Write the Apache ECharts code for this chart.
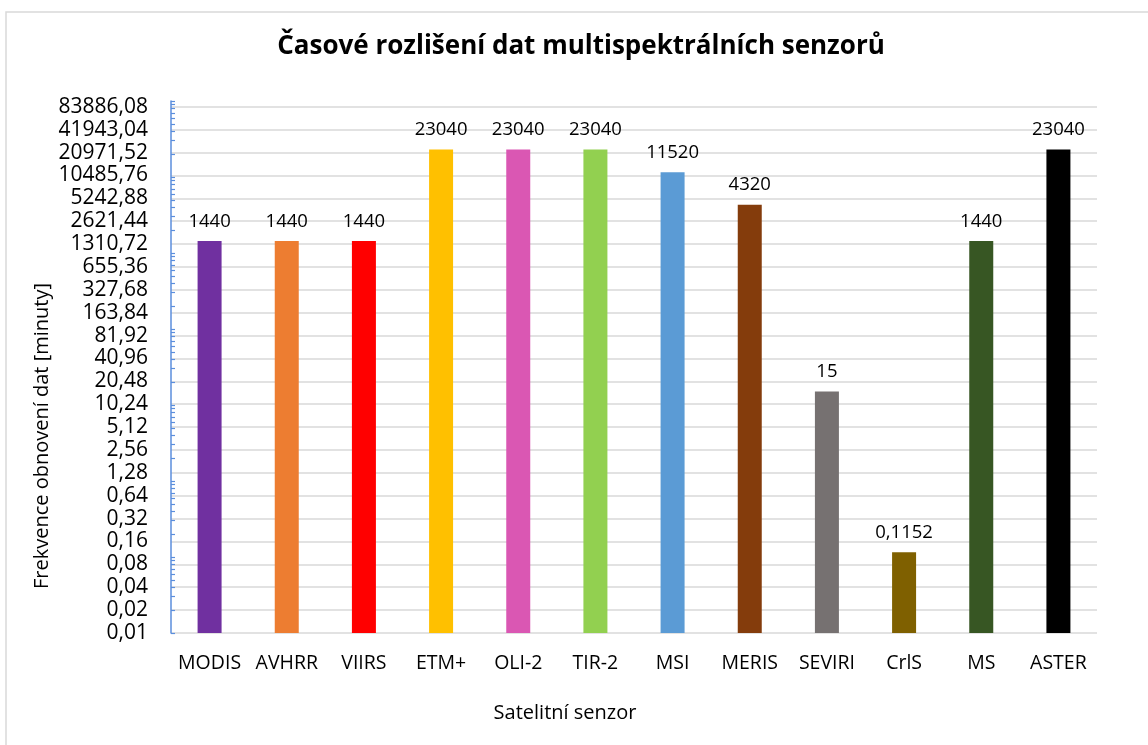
<!DOCTYPE html>
<html>
<head>
<meta charset="utf-8">
<title>Časové rozlišení dat multispektrálních senzorů</title>
<script src="https://cdn.jsdelivr.net/npm/echarts@6/dist/echarts.min.js"></script>
<style>
  html, body { margin: 0; padding: 0; background: #fff; }
  #chart { width: 1148px; height: 745px; }
</style>
</head>
<body>
<div id="chart"></div>
<script>
// data
var sensors = ['MODIS', 'AVHRR', 'VIIRS', 'ETM+', 'OLI-2', 'TIR-2', 'MSI', 'MERIS', 'SEVIRI', 'CrlS', 'MS', 'ASTER'];
var values = [1440, 1440, 1440, 23040, 23040, 23040, 11520, 4320, 15, 0.1152, 1440, 23040];
var barColors = ['#7030A0', '#ED7D31', '#FF0000', '#FFC000', '#DA57B3', '#92D050',
  '#5B9BD5', '#843C0C', '#767171', '#7F6000', '#375623', '#000000'];
var yTickLabels = ['0,01', '0,02', '0,04', '0,08', '0,16', '0,32', '0,64', '1,28', '2,56', '5,12',
  '10,24', '20,48', '40,96', '81,92', '163,84', '327,68', '655,36', '1310,72', '2621,44',
  '5242,88', '10485,76', '20971,52', '41943,04', '83886,08'];
var axisMin = 0.01;
var axisMax = 100000;

// log2 scale: position = log2(v / axisMin)
var toPos = function(v) {
  return Math.log(v / axisMin) / Math.LN2;
};
var posMax = toPos(axisMax);

var majorPos = [];
for (var i = 0; i < yTickLabels.length; i++) majorPos.push(i);

// minor ticks at 1..9 x 10^n (like the excel log axis)
var minorPos = [];
for (var d = 0.01; d < axisMax * 1.5; d *= 10) {
  for (var k = 1; k <= 9; k++) {
    var v = k * d;
    if (v <= axisMax * 1.0001) minorPos.push(toPos(v));
  }
}

var fmtNum = function(v) {
  return String(v).replace('.', ',');
};

var barData = values.map(function(v, i) {
  return { value: toPos(v), itemStyle: { color: barColors[i] } };
});

var gridRect = { left: 171, right: 51, top: 101, bottom: 112 };
var font = '"Open Sans", "DejaVu Sans", sans-serif';

var myChart = echarts.init(document.getElementById('chart'));
var option = {
  backgroundColor: '#fff',
  animation: false,
  textStyle: { fontFamily: font, color: '#000' },
  graphic: [{
    type: 'rect',
    shape: { x: 6, y: 12, width: 1300, height: 900 },
    style: { fill: 'none', stroke: '#d9d9d9', lineWidth: 1.5 },
    silent: true
  }, {
    // title
    type: 'text',
    x: 581,
    y: 47,
    style: {
      text: 'Časové rozlišení dat multispektrálních senzorů',
      font: 'bold 26px ' + font,
      fill: '#000',
      textAlign: 'center',
      textVerticalAlign: 'middle'
    }
  }, {
    // x axis title
    type: 'text',
    x: 565,
    y: 713,
    style: {
      text: 'Satelitní senzor',
      font: '20px ' + font,
      fill: '#000',
      textAlign: 'center',
      textVerticalAlign: 'middle'
    }
  }, {
    // y axis title
    type: 'text',
    x: 42,
    y: 436,
    rotation: Math.PI / 2,
    style: {
      text: 'Frekvence obnovení dat [minuty]',
      font: '20px ' + font,
      fill: '#000',
      textAlign: 'center',
      textVerticalAlign: 'middle'
    }
  }],
  grid: [
    { left: gridRect.left, right: gridRect.right, top: gridRect.top, bottom: gridRect.bottom },
    { left: gridRect.left, right: gridRect.right, top: gridRect.top, bottom: gridRect.bottom }
  ],
  xAxis: [{
    type: 'category',
    gridIndex: 0,
    data: sensors,
    axisLine: { show: false },
    axisTick: { show: false },
    axisLabel: { interval: 0, hideOverlap: false, fontSize: 19.5, color: '#000', margin: 20, fontFamily: font }
  }, {
    type: 'value',
    gridIndex: 1,
    show: false
  }],
  yAxis: [{
    type: 'value',
    gridIndex: 0,
    min: 0,
    max: posMax,
    axisLine: { show: false },
    axisTick: { show: false, customValues: majorPos },
    axisLabel: {
      customValues: majorPos,
      fontSize: 21,
      color: '#000',
      margin: 23,
      fontFamily: font,
      formatter: function(v) {
        return yTickLabels[Math.round(v)];
      }
    },
    splitLine: { show: true, lineStyle: { color: '#d9d9d9', width: 1.5 } }
  }, {
    // blue axis line with the small ticks
    type: 'value',
    gridIndex: 1,
    min: 0,
    max: posMax,
    axisLine: { show: true, lineStyle: { color: '#5B8EDC', width: 1.5 } },
    axisTick: { show: true, inside: true, length: 4, customValues: minorPos, lineStyle: { color: '#5B8EDC', width: 1.2 } },
    axisLabel: { show: false },
    splitLine: { show: false }
  }],
  series: [{
    type: 'bar',
    xAxisIndex: 0,
    yAxisIndex: 0,
    barWidth: 24,
    data: barData,
    label: {
      show: true,
      position: 'top',
      distance: 10,
      fontSize: 18.5,
      color: '#000',
      fontFamily: font,
      formatter: function(p) {
        return fmtNum(values[p.dataIndex]);
      }
    }
  }]
};
myChart.setOption(option);
</script>
</body>
</html>
